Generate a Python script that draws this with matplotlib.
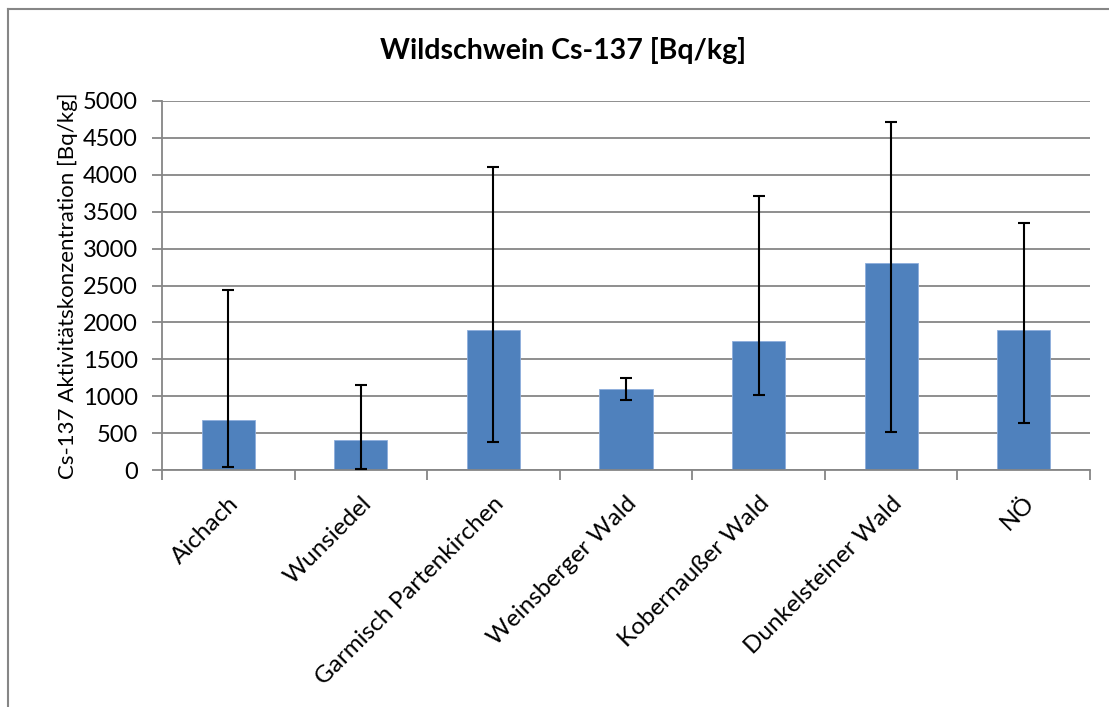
import matplotlib
matplotlib.use("Agg")
import matplotlib.pyplot as plt
from matplotlib.lines import Line2D
import numpy as np

categories = ["Aichach", "Wunsiedel", "Garmisch Partenkirchen", "Weinsberger Wald",
              "Kobernaußer Wald", "Dunkelsteiner Wald", "NÖ"]
means = [680, 406, 1902, 1096, 1753, 2800, 1898]
err_high = [2439, 1154, 4098, 1253, 3710, 4707, 3341]
err_low = [49, 20, 383, 951, 1023, 514, 640]

title = "Wildschwein Cs-137 [Bq/kg]"
ylabel = "Cs-137 Aktivitätskonzentration [Bq/kg]"
yticks = [0, 500, 1000, 1500, 2000, 2500, 3000, 3500, 4000, 4500, 5000]

plt.rcParams['font.family'] = ['Lato', 'DejaVu Sans']

W, H = 1109, 707
fig = plt.figure(figsize=(W / 100, H / 100), dpi=100)
left, right, top, bottom = 162, 1090, 100.7, 470.3
ax = fig.add_axes([left / W, 1 - bottom / H, (right - left) / W, (bottom - top) / H])

x = np.arange(len(categories))
means_a = np.array(means)
yerr = np.vstack([means_a - np.array(err_low), np.array(err_high) - means_a])

ax.bar(x, means, width=0.4, color="#4F81BD", edgecolor="#8EAEDC", linewidth=0.6, zorder=2)
ax.errorbar(x, means, yerr=yerr, fmt="none", ecolor="black", elinewidth=1.5,
            capsize=4, capthick=1.5, zorder=3)

ax.set_xlim(-0.5, len(categories) - 0.5)
ax.set_ylim(0, 5000)
ax.set_yticks(yticks)
ax.set_yticklabels([str(v) for v in yticks], fontsize=17)
ax.yaxis.grid(True, color="#868686", linewidth=1.3, zorder=0)
ax.set_axisbelow(True)

ax.set_xticks(x)
ax.set_xticklabels(categories, rotation=45, ha="right", rotation_mode="anchor", fontsize=17.5)
ax.tick_params(axis="x", length=0, pad=16)
# boundary ticks
ax.set_xticks(np.arange(len(categories) + 1) - 0.5, minor=True)
ax.tick_params(axis="x", which="minor", length=7, color="#868686", width=1.3)
ax.tick_params(axis="y", length=7, color="#868686", width=1.3, pad=10.5)

for s in ["top", "right"]:
    ax.spines[s].set_visible(False)
for s in ["left", "bottom"]:
    ax.spines[s].set_color("#868686")
    ax.spines[s].set_linewidth(1.3)

ax.set_ylabel(ylabel, fontsize=16)
ax.yaxis.set_label_coords((78 - left) / (right - left), 0.5)
fig.text(563 / W, 1 - 50 / H, title, ha="center", va="center", fontsize=20.5, fontweight="bold")

# outer chart border (top and left)
fig.add_artist(Line2D([8 / W, 1], [1 - 9 / H, 1 - 9 / H], transform=fig.transFigure,
                      color="#868686", linewidth=1.5))
fig.add_artist(Line2D([8 / W, 8 / W], [0, 1 - 9 / H], transform=fig.transFigure,
                      color="#868686", linewidth=1.5))

fig.savefig("out.png", dpi=100)
